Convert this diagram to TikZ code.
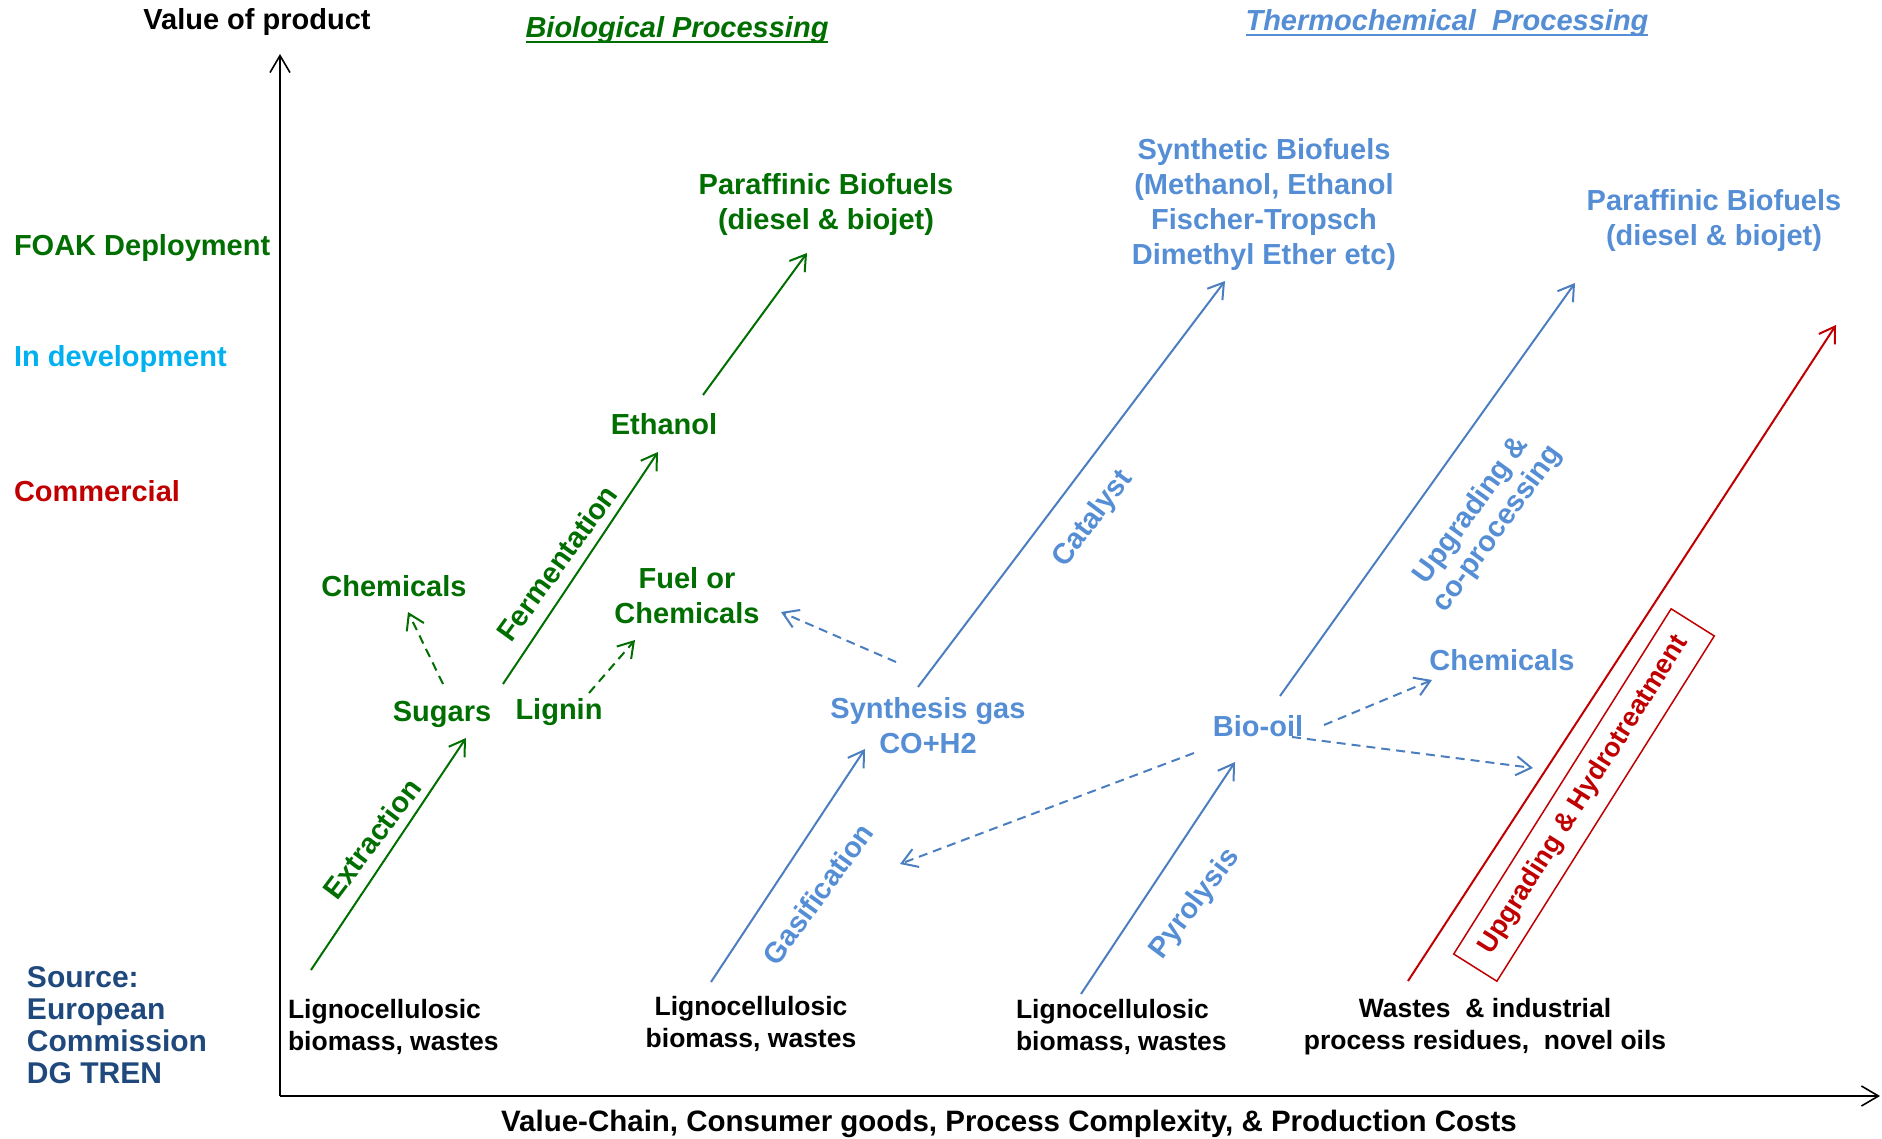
\documentclass[tikz,border=0pt]{standalone}
\usepackage{fontspec}
\setmainfont{Liberation Sans}
\usetikzlibrary{arrows.meta}

\definecolor{bioG}{RGB}{0,110,0}
\definecolor{thermoB}{RGB}{85,142,213}
\definecolor{thermoLine}{RGB}{74,126,190}
\definecolor{devCyan}{RGB}{0,176,240}
\definecolor{comRed}{RGB}{192,0,0}
\definecolor{srcBlue}{RGB}{31,73,125}

\tikzset{
  lbl/.style={font=\bfseries\fontsize{29}{35}\selectfont, inner sep=0pt, outer sep=0pt},
  small/.style={font=\bfseries\fontsize{26.5}{32}\selectfont, inner sep=0pt, outer sep=0pt},
  gtext/.style={lbl, text=bioG},
  btext/.style={lbl, text=thermoB},
  tip/.style={-{Straight Barb[length=15pt,width=19pt,line width=2pt]}},
  flow/.style={line width=2pt, tip},
  dflow/.style={flow, dash pattern=on 9pt off 6pt},
  axis/.style={line width=2pt, -{Straight Barb[length=17pt,width=20pt,line width=1.6pt]}},
}

\begin{document}
\begin{tikzpicture}[x=1pt, y=-1pt]
\useasboundingbox (0,0) rectangle (1882,1139);

% axes
\coordinate (origin) at (280,1096);
\coordinate (ytop) at (280,54);
\coordinate (xend) at (1880,1096);
\draw[axis] (origin) -- (ytop);
\draw[axis] (origin) -- (xend);

\node[lbl, anchor=base] (yaxis) at (257,30) {Value of product};
\node[lbl, font=\bfseries\fontsize{29.5}{35}\selectfont, anchor=base] (xaxis) at (1009,1131) {Value-Chain, Consumer goods, Process Complexity, \& Production Costs};

% section titles
\node[lbl, text=bioG, font=\bfseries\itshape\fontsize{29}{35}\selectfont, anchor=base] (biotitle) at (677,38) {Biological Processing};
\draw[bioG, line width=2pt] ([yshift=-4pt]biotitle.base west) -- ([yshift=-4pt]biotitle.base east);
\node[lbl, text=thermoB, font=\bfseries\itshape\fontsize{29}{35}\selectfont, anchor=base] (thermotitle) at (1447,31) {Thermochemical\ \ Processing};
\draw[thermoB, line width=2pt] ([yshift=-4pt]thermotitle.base west) -- ([yshift=-4pt]thermotitle.base east);

% maturity scale
\node[lbl, text=bioG, anchor=base west] (foak) at (14,256) {FOAK Deployment};
\node[lbl, text=devCyan, anchor=base west] (indev) at (14,367) {In development};
\node[lbl, text=comRed, anchor=base west] (comm) at (14,501) {Commercial};

% source
\node[lbl, font=\bfseries\fontsize{30}{32}\selectfont, text=srcBlue, align=left, anchor=north west] (source) at (27,967) {Source:\\European\\Commission\\DG TREN};

% feedstocks
\node[small, align=left, anchor=west] (feed1) at (288,1027) {Lignocellulosic\\biomass, wastes};
\node[small, align=center] (feed2) at (751,1024) {Lignocellulosic\\biomass, wastes};
\node[small, align=left, anchor=west] (feed3) at (1016,1027) {Lignocellulosic\\biomass, wastes};
\node[small, align=center] (feed4) at (1485,1027) {Wastes\ \ \& industrial\\process residues,\ \ novel oils};

% biological products
\node[gtext, align=center] (bioparaf) at (826,205) {Paraffinic Biofuels\\(diesel \& biojet)};
\node[gtext, anchor=base] (ethanol) at (664,435) {Ethanol};
\node[gtext, anchor=base] (biochem) at (394,596) {Chemicals};
\node[gtext, align=center] (fuelchem) at (687,596) {Fuel or\\Chemicals};
\node[gtext, anchor=base] (sugars) at (442,721) {Sugars};
\node[gtext, anchor=base] (lignin) at (559,719) {Lignin};

% thermochemical products
\node[btext, align=center] (synfuel) at (1264,205) {Synthetic Biofuels\\(Methanol, Ethanol\\Fischer-Tropsch\\Dimethyl Ether etc)};
\node[btext, align=center] (thparaf) at (1714,221) {Paraffinic Biofuels\\(diesel \& biojet)};
\node[btext, align=center] (syngas) at (928,726) {Synthesis gas\\CO+H2};
\node[btext, anchor=base] (biooil) at (1258,736) {Bio-oil};
\node[btext, anchor=base] (thchem) at (1502,670) {Chemicals};

% connector end points
\coordinate (ext-a) at (311,970);  \coordinate (ext-b) at (466,738);
\coordinate (fer-a) at (503,684);  \coordinate (fer-b) at (658,452);
\coordinate (par-a) at (703,395);  \coordinate (par-b) at (807,253);
\coordinate (sch-a) at (443,684);  \coordinate (sch-b) at (408,612);
\coordinate (lig-a) at (589,693);  \coordinate (lig-b) at (635,640);
\coordinate (gas-a) at (711,982);  \coordinate (gas-b) at (865,749);
\coordinate (cat-a) at (918,687);  \coordinate (cat-b) at (1225,281);
\coordinate (pyr-a) at (1081,994); \coordinate (pyr-b) at (1235,762);
\coordinate (upg-a) at (1280,696); \coordinate (upg-b) at (1575,283);
\coordinate (syn-a) at (896,662);  \coordinate (syn-b) at (781,612);
\coordinate (bio-a) at (1194,753); \coordinate (bio-b) at (900,864);
\coordinate (boc-a) at (1324,725); \coordinate (boc-b) at (1432,680);
\coordinate (bor-a) at (1292,737); \coordinate (bor-b) at (1533,768);
\coordinate (red-a) at (1408,981); \coordinate (red-b) at (1836,325);

% biological routes
\draw[flow, bioG] (ext-a) -- (ext-b);
\draw[flow, bioG] (fer-a) -- (fer-b);
\draw[flow, bioG] (par-a) -- (par-b);
\draw[dflow, bioG] (sch-a) -- (sch-b);
\draw[dflow, bioG] (lig-a) -- (lig-b);

\node[gtext, rotate=53] (extlbl) at (372,839) {Extraction};
\node[gtext, rotate=54] (ferlbl) at (557,563) {Fermentation};

% thermochemical routes
\draw[flow, thermoLine] (gas-a) -- (gas-b);
\draw[flow, thermoLine] (cat-a) -- (cat-b);
\draw[flow, thermoLine] (pyr-a) -- (pyr-b);
\draw[flow, thermoLine] (upg-a) -- (upg-b);
\draw[dflow, thermoLine] (syn-a) -- (syn-b);
\draw[dflow, thermoLine] (bio-a) -- (bio-b);
\draw[dflow, thermoLine] (boc-a) -- (boc-b);
\draw[dflow, thermoLine] (bor-a) -- (bor-b);

\node[btext, rotate=54] (gaslbl) at (818,894) {Gasification};
\node[btext, rotate=53] (catlbl) at (1093,519) {Catalyst};
\node[btext, rotate=53] (pyrlbl) at (1195,904) {Pyrolysis};
\node[btext, rotate=54, align=center, font=\bfseries\fontsize{29}{32}\selectfont] (upglbl) at (1485,520) {Upgrading \&\\co-processing};

% upgrading and hydrotreatment
\draw[flow, comRed] (red-a) -- (red-b);
\node[draw=comRed, line width=1.5pt, rotate=57.8, minimum width=408pt, minimum height=51pt, inner sep=0pt,
      text=comRed, font=\bfseries\fontsize{27}{32}\selectfont] (hydro) at (1584,795) {Upgrading \& Hydrotreatment};

\end{tikzpicture}
\end{document}
